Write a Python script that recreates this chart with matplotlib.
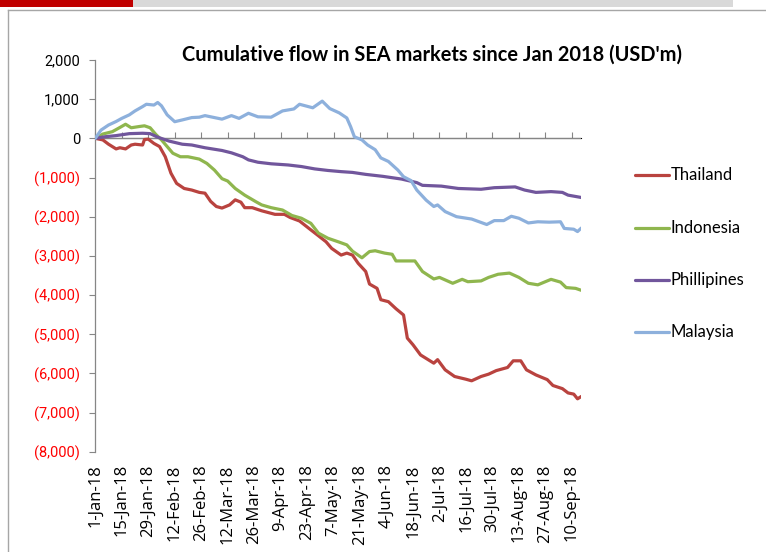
import matplotlib
matplotlib.use("Agg")
import matplotlib.pyplot as plt
from matplotlib.lines import Line2D
from matplotlib.patches import Rectangle
from matplotlib.ticker import FuncFormatter
import pandas as pd

# ---------------- data (days since 1-Jan-2018, USD m) ----------------
start = pd.Timestamp("2018-01-01")

thailand_days = [0, 4, 7, 11, 13, 16, 19, 21, 25, 26, 28, 31, 34, 37, 40, 43, 47, 51, 55, 58,
                 61, 64, 67, 71, 74, 77, 79, 83, 88, 95, 100, 103, 108, 113, 117, 122, 125, 130,
                 133, 136, 139, 143, 145, 149, 151, 155, 159, 163, 165, 168, 172, 176, 179, 181,
                 185, 190, 196, 199, 204, 208, 212, 218, 221, 225, 228, 233, 239, 242, 247, 250,
                 253, 255, 257]
thailand_vals = [0, -40, -150, -270, -240, -270, -170, -150, -170, -30, -20, -130, -210, -470,
                 -890, -1150, -1280, -1320, -1380, -1400, -1610, -1740, -1780, -1700, -1570,
                 -1630, -1770, -1770, -1850, -1940, -1940, -2020, -2110, -2300, -2450, -2640,
                 -2810, -2980, -2930, -2980, -3190, -3400, -3720, -3830, -4120, -4170, -4350,
                 -4510, -5100, -5270, -5530, -5650, -5740, -5650, -5910, -6080, -6150, -6190,
                 -6080, -6020, -5930, -5850, -5680, -5680, -5910, -6040, -6160, -6310, -6390,
                 -6500, -6530, -6650, -6590]

indonesia_days = [0, 4, 9, 12, 16, 19, 23, 26, 29, 32, 35, 38, 41, 45, 49, 55, 59, 63, 67, 70,
                  74, 79, 85, 88, 93, 99, 104, 109, 114, 118, 123, 129, 133, 136, 141, 145, 148,
                  153, 157, 159, 169, 173, 179, 182, 189, 194, 197, 204, 208, 213, 219, 224, 229,
                  234, 241, 246, 249, 254, 257]
indonesia_vals = [0, 110, 170, 250, 360, 270, 300, 320, 270, 100, -40, -210, -380, -470, -470,
                  -530, -640, -810, -1030, -1090, -1280, -1450, -1620, -1700, -1770, -1830,
                  -1970, -2040, -2170, -2420, -2550, -2650, -2720, -2880, -3050, -2890, -2870,
                  -2930, -2960, -3130, -3130, -3400, -3590, -3550, -3700, -3600, -3660, -3640,
                  -3550, -3470, -3440, -3550, -3700, -3740, -3600, -3670, -3810, -3830, -3880]

philippines_days = [0, 5, 11, 18, 25, 29, 33, 39, 46, 51, 58, 67, 72, 78, 81, 86, 93, 102, 109,
                    116, 123, 130, 136, 143, 152, 162, 170, 173, 183, 192, 204, 211, 222, 227,
                    233, 241, 247, 250, 257]
philippines_vals = [0, 40, 70, 120, 130, 120, 30, -70, -150, -170, -240, -310, -370, -470, -550,
                    -610, -650, -680, -720, -780, -820, -850, -870, -920, -970, -1040, -1130,
                    -1200, -1220, -1280, -1300, -1260, -1240, -1320, -1380, -1360, -1380, -1450,
                    -1510]

malaysia_days = [0, 3, 7, 11, 14, 18, 21, 25, 27, 31, 33, 35, 38, 42, 46, 51, 55, 58, 63, 67,
                 72, 76, 81, 86, 93, 99, 105, 108, 115, 120, 124, 129, 133, 135, 137, 141, 144,
                 148, 151, 155, 160, 163, 167, 170, 175, 179, 181, 185, 191, 199, 207, 211, 216,
                 220, 224, 229, 234, 240, 246, 248, 253, 255, 257]
malaysia_vals = [0, 210, 340, 430, 510, 600, 700, 810, 870, 850, 915, 830, 600, 425, 470, 530,
                 540, 580, 530, 490, 580, 510, 640, 550, 540, 700, 750, 870, 780, 950, 760, 650,
                 520, 300, 40, -40, -170, -290, -500, -590, -810, -980, -1080, -1320, -1580,
                 -1740, -1700, -1870, -2000, -2060, -2200, -2100, -2100, -1990, -2040, -2160,
                 -2130, -2140, -2130, -2300, -2320, -2380, -2290]

series_names = ["Thailand", "Indonesia", "Phillipines", "Malaysia"]
series_days = [thailand_days, indonesia_days, philippines_days, malaysia_days]
series_vals = [thailand_vals, indonesia_vals, philippines_vals, malaysia_vals]
series_colors = ["#B9433F", "#8FB64E", "#71569C", "#8DB0DC"]

y_ticks = [2000, 1000, 0, -1000, -2000, -3000, -4000, -5000, -6000, -7000, -8000]
x_tick_dates = pd.date_range("2018-01-01", "2018-09-10", freq="14D")
x_end = pd.Timestamp("2018-09-15")

title = "Cumulative flow in SEA markets since Jan 2018 (USD'm)"

# ---------------- figure ----------------
W, H = 766, 552
fig = plt.figure(figsize=(W / 100, H / 100), dpi=100)
fig.patch.set_facecolor("white")

ax = fig.add_axes([95.3 / W, (H - 451.7) / H, (581.3 - 95.3) / W, (451.7 - 60) / H])

for name, d, v, c in zip(series_names, series_days, series_vals, series_colors):
    dates = [start + pd.Timedelta(days=int(x)) for x in d]
    ax.plot(dates, v, color=c, lw=2.3, solid_joinstyle="round", solid_capstyle="round",
            label=name, zorder=3)

ax.set_ylim(-8000, 2000)
ax.set_xlim(start, x_end)
ax.set_yticks(y_ticks)


def yfmt(v, pos):
    if v < 0:
        return "({:,.0f})".format(-v)
    return "{:,.0f}".format(v)


ax.yaxis.set_major_formatter(FuncFormatter(yfmt))
ax.tick_params(axis="y", direction="out", length=4, width=0.8, color="#868686", pad=7,
               labelsize=10.5)
fig.canvas.draw()
for lab in ax.get_yticklabels():
    lab.set_fontfamily("Roboto")
    if lab.get_text().startswith("("):
        lab.set_color("#FF0000")
    else:
        lab.set_color("black")

for s in ["top", "right", "bottom"]:
    ax.spines[s].set_visible(False)
ax.spines["left"].set_color("#868686")
ax.spines["left"].set_linewidth(0.9)

# x tick labels at the bottom, tick marks on the zero line
ax.set_xticks(x_tick_dates)
ax.set_xticklabels([f"{d.day}-{d.strftime('%b')}-{d.strftime('%y')}" for d in x_tick_dates],
                   rotation=90, fontsize=12, fontfamily="Open Sans")
ax.tick_params(axis="x", length=0, pad=9)

ax.axhline(0, color="#868686", lw=0.9, zorder=2)
sec = ax.secondary_xaxis(0.8)
sec.set_xticks(x_tick_dates)
sec.set_xticklabels([])
sec.tick_params(axis="x", direction="out", length=4, width=0.8, color="#868686")
sec.spines["bottom"].set_visible(False)

# title
fig.text(432.5 / W, 1 - 54.5 / H, title, ha="center", va="center", fontsize=14.4,
         fontweight="bold", fontfamily="Lato")

# legend (manual, right side)
leg_y = [175, 228, 280, 332]
for name, c, yy in zip(series_names, series_colors, leg_y):
    fig.add_artist(Line2D([635 / W, 669 / W], [1 - yy / H, 1 - yy / H], color=c, lw=2.3,
                          solid_capstyle="round", transform=fig.transFigure))
    fig.text(671 / W, 1 - yy / H, name, ha="left", va="center", fontsize=12,
             fontfamily="Lato")

# decorative frame & top bars
fig.add_artist(Rectangle((0, 1 - 7 / H), 133 / W, 7 / H, color="#C00000",
                         transform=fig.transFigure, lw=0))
fig.add_artist(Rectangle((133 / W, 1 - 7 / H), 600 / W, 7 / H, color="#D9D9D9",
                         transform=fig.transFigure, lw=0))
fig.add_artist(Line2D([7.5 / W, 1], [1 - 10 / H, 1 - 10 / H], color="#A6A6A6", lw=1,
                      transform=fig.transFigure))
fig.add_artist(Line2D([7.5 / W, 7.5 / W], [0, 1 - 10 / H], color="#A6A6A6", lw=1,
                      transform=fig.transFigure))

fig.savefig("out.png", dpi=100, facecolor="white")
